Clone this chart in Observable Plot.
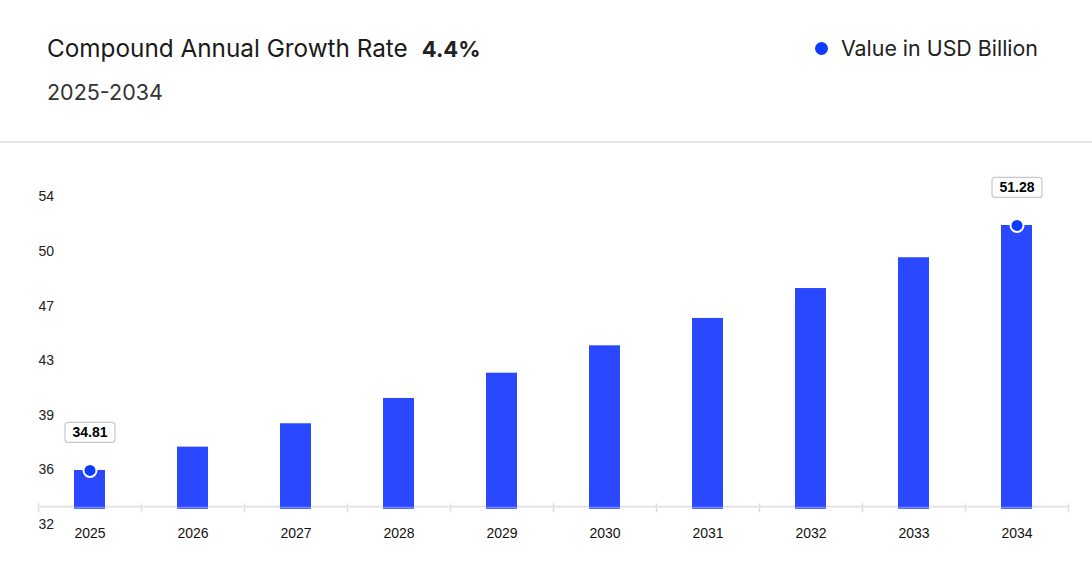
<!DOCTYPE html>
<html>
<head>
<meta charset="utf-8">
<script src="https://cdn.jsdelivr.net/npm/d3@7"></script>
<script src="https://cdn.jsdelivr.net/npm/@observablehq/plot@0.6"></script>
<style>
  html, body { margin: 0; padding: 0; background: #fff; }
  #page { position: relative; width: 1092px; height: 588px; overflow: hidden; font-family: Inter, "Noto Sans", sans-serif; }
  #title { position: absolute; left: 47px; top: 32px; font-size: 24.3px; color: #1a1a1a; white-space: nowrap; line-height: 32px; }
  #title b { font-weight: 700; margin-left: 14px; color: #222; font-size: 22px; }
  #subtitle { position: absolute; left: 47px; top: 76px; font-size: 21.5px; color: #333; line-height: 32px; }
  #legend { position: absolute; right: 54px; top: 32px; font-size: 21.4px; color: #222; line-height: 32px; display: flex; align-items: center; }
  #legend .sw { width: 13px; height: 13px; border-radius: 50%; background: #0d3bff; margin-right: 13px; }
  #sep { position: absolute; left: 0; top: 141px; width: 1092px; height: 2px; background: #e8e8e8; }
  #chart { position: absolute; left: 0; top: 144px; }
</style>
</head>
<body>
<div id="page">
  <div id="title">Compound Annual Growth Rate<b>4.4%</b></div>
  <div id="subtitle">2025-2034</div>
  <div id="legend"><span class="sw"></span>Value in USD Billion</div>
  <div id="sep"></div>
  <div id="chart"></div>
</div>
<script>
const years = [2025, 2026, 2027, 2028, 2029, 2030, 2031, 2032, 2033, 2034];
const values = [34.81, 36.38, 37.95, 39.65, 41.35, 43.19, 45.03, 47.04, 49.11, 51.28];
const labeledYears = [2025, 2034];
const yTickValues = [32, 35.67, 39.33, 43, 46.67, 50.33, 54];
const yMin = 32.2, yMax = 54;

const data = years.map((year, i) => ({year, value: values[i]}));
const labeled = data.filter(d => labeledYears.includes(d.year));

const W = 1092, H = 444, ML = 38, MR = 24, MT = 40.5, MB = 79.2;
const step = (W - ML - MR) / years.length;

const tickSymbol = { draw(ctx) { ctx.moveTo(0, -3); ctx.lineTo(0, 6); } };
const boxSymbol = { draw(ctx) {
  const w = 50, h = 20, r = 3, x = -w / 2, y = -h / 2;
  ctx.moveTo(x + r, y);
  ctx.lineTo(x + w - r, y); ctx.arcTo(x + w, y, x + w, y + r, r);
  ctx.lineTo(x + w, y + h - r); ctx.arcTo(x + w, y + h, x + w - r, y + h, r);
  ctx.lineTo(x + r, y + h); ctx.arcTo(x, y + h, x, y + h - r, r);
  ctx.lineTo(x, y + r); ctx.arcTo(x, y, x + r, y, r);
  ctx.closePath();
} };

const chart = Plot.plot({
  width: W, height: H,
  marginLeft: ML, marginRight: MR, marginTop: MT, marginBottom: MB,
  style: { fontFamily: "'Liberation Sans', Arial, sans-serif", fontSize: "14px", color: "#222", background: "transparent" },
  x: { type: "band", domain: years, paddingInner: 0.7, paddingOuter: 0.35, axis: null },
  y: { domain: [yMin, yMax], axis: null },
  marks: [
    Plot.ruleY([yMin], { dy: -2.5, stroke: "#dddddd", strokeWidth: 2 }),
    Plot.dot(years, { x: d => d, frameAnchor: "bottom", dx: -step / 2, dy: -3, symbol: tickSymbol, stroke: "#dddddd", strokeWidth: 1.5, fill: "none", r: 4 }),
    Plot.dot(years.slice(-1), { x: d => d, frameAnchor: "bottom", dx: step / 2, dy: -3, symbol: tickSymbol, stroke: "#dddddd", strokeWidth: 1.5, fill: "none", r: 4 }),
    Plot.barY(data, { x: "year", y1: yMin, y2: "value", fill: "#2a48ff" }),
    Plot.ruleY([yMin], { dy: -2, stroke: "white", strokeOpacity: 0.45, strokeWidth: 1 }),
    Plot.text(yTickValues, { y: d => d, text: d => String(Math.round(d)), frameAnchor: "left", textAnchor: "start", dy: 12, fill: "#222", fontSize: 14 }),
    Plot.text(years, { x: d => d, text: d => String(d), frameAnchor: "bottom", dy: 24, lineAnchor: "middle", fill: "#111", fontSize: 14 }),
    Plot.dot(labeled, { x: "year", y: "value", dy: -38, symbol: boxSymbol, fill: "white", stroke: "#c8c8c8", strokeWidth: 1.2 }),
    Plot.text(labeled, { x: "year", y: "value", dy: -38, text: d => d.value.toFixed(2), fontWeight: "bold", fontSize: 14, fill: "#000", lineAnchor: "middle" }),
    Plot.dot(labeled, { x: "year", y: "value", r: 6.5, fill: "#0d3bff", stroke: "white", strokeWidth: 2 })
  ]
});
document.getElementById("chart").appendChild(chart);
</script>
</body>
</html>
